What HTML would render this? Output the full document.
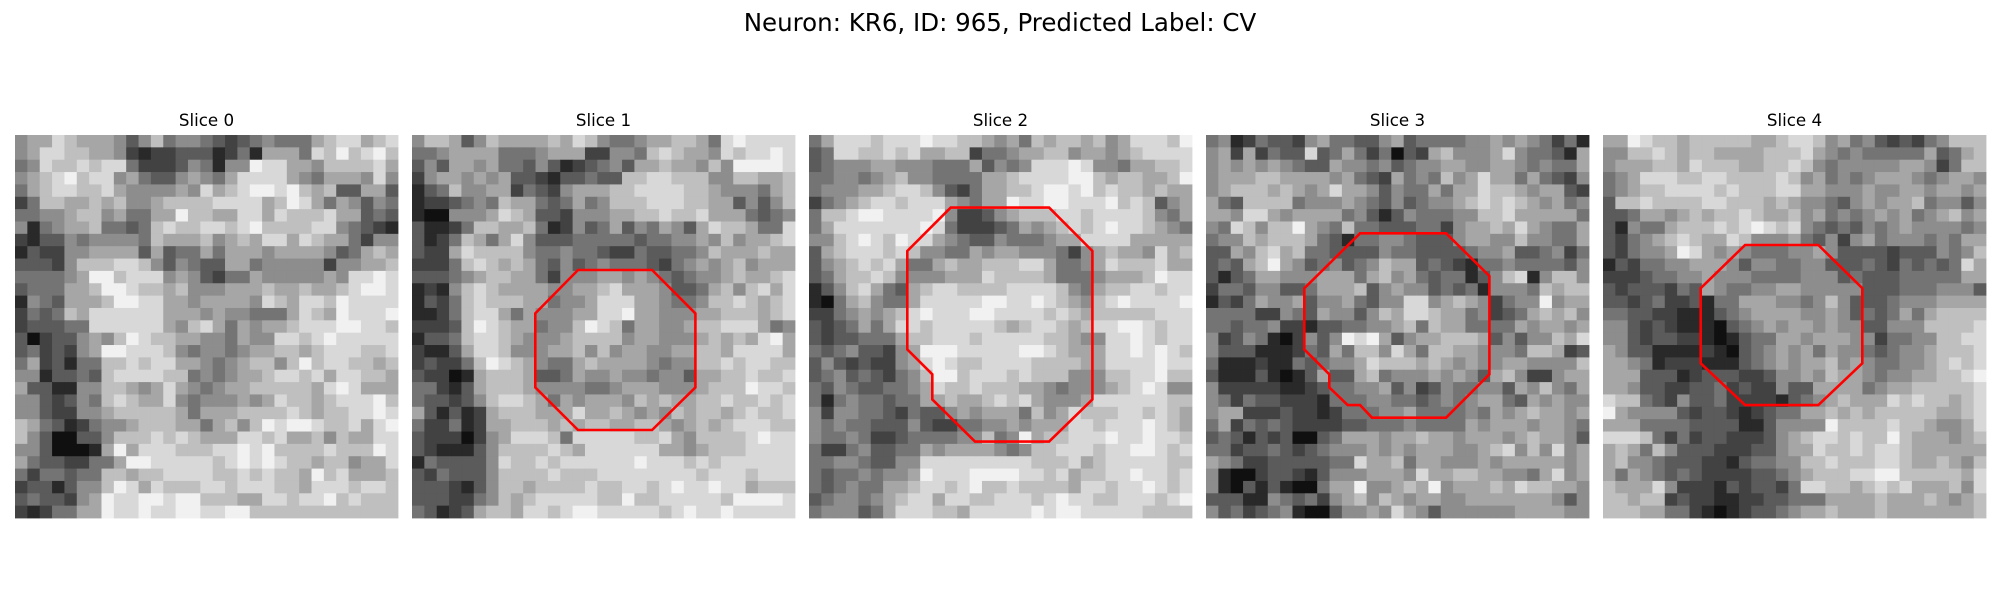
<!DOCTYPE html>
<html><head><meta charset="utf-8">
<style>
html,body{margin:0;padding:0;background:#fff;}
svg{display:block;}
text{font-family:"DejaVu Sans","Liberation Sans",sans-serif;fill:#000;}
</style></head>
<body>
<svg id="fig" width="2000" height="600" viewBox="0 0 2000 600" xmlns="http://www.w3.org/2000/svg">
<rect width="2000" height="600" fill="#fff"/>
<text x="1000" y="31" text-anchor="middle" font-size="24.5">Neuron: KR6, ID: 965, Predicted Label: CV</text>
</svg>
<script>
const panelTitles = ["Slice 0","Slice 1","Slice 2","Slice 3","Slice 4"];
const slice0 = [
"5668766653574554323454446788678","5688776652122333124166648797897","4587787884222354155988665777786",
"5678978856433565468888654666585","4678877865555658678998976733663","2477667675567777888867986465354",
"4455677564466977668868777866343","5145667443478778878977778854321","2133545555476667567688687664255",
"1322556666363446466656666534676","3332577788753543366455555255667","4444569978885653244655555658898",
"3444667998776755566676676678998","1543666799886656666587688798888","2434768888886665655444687698889",
"2333448888886578646566788899887","3023356579877665546558878988888","3423256998887545545667767888778",
"4623144778788665456775797887767","5513343788887745456678878688776","6331155776568654566777776898666",
"5532354787668545556568776788897","5532255677777646667777876778898","7643124556777664675798998778689",
"7530033577787876668878667576688","5530001696888777889897777877798","6433224469988888789898776775668",
"4244344776778888778787769786667","2331355798687778878887768887887","3433256988998997776688788978777",
"2124466988988998899777777777777"];
const slice1 = [
"5776357666676875445667764898888","4456666444566622554787665878898","3536656443531234536676657599998",
"2566565633213343377887775577667","1347556624325666778888776555467","1223454766434645777888776635357",
"1005556876332555667787786664345","3112477667412534635465368776448","3124764685333444443445565756678",
"3226877775445443224334457666766","2224787676435345444324565675666","3334567766425556656543455676678",
"1215787666655667866653346757868","1324787776645568886654457787678","1124788646555668896655566777678",
"2223798766455798746655677888645","1334788765556777756655567676896","2113688755566757566556677688886",
"2322479876544676666545577878877","3220167776334655655455366778778","4421367776555544566655567779887",
"4332357887646566657676677877878","6313126777666866765657677678778","4224126677767677667765676788877",
"3222025688874888887786577778988","3211135777787688888866567778888","1433335877878888889888787888888",
"3243335777787778888888878887888","3332135776777787788789889886777","3332245767888887797788888799998",
"4312367768878998888878988988888"];
const slice2 = [
"4688878889887765647677675688879","3488778786677244566775665678888","3455566555444635458889855466778",
"4455456755444466788889976776679","4555667887532466778998978776766","2456788788865466988998889787356",
"4778998888952235677788788887546","4688888889842223465678789887654","5578987988654335444566888866666",
"3678887875544656655542567665867","3567878644676677788644568777866","3467787555566687777644456667988",
"1357864367887777888875467788788","1046754468888899889876578988889","2245656789888998888787677777888",
"3234646887888887678876788998788","3233444677888788888776558898788","4345332569998888899876668898987",
"3532322568987788887777668888988","3453432457997888787775557788977","4354334456877877766545556789855",
"4145443446676678786555688888877","5255443243356566647568777887876","5454433353224455656668878889876",
"5445422344445574596778889889887","4224533446566665457788878899878","4455433558888888887778678888877",
"4344545569888999988786778898878","4345446678878977877776887889878","3455456788688778887898877888789",
"4555346888776888889899888887777"];
const slice3 = [
"4512433256443356344445565654241","5626243383464240326755568544316","5656565433655453455665566545446",
"5666776666564326454756866464325","5677767656866535446466877656632","6437777455565435345567878765645",
"6658865666645313544455778666664","5487577965474433344256676865446","4557677764314455433356655755446",
"3365786744333354433334556334524","3436796534534576634321445444435","3134665556664675643441357815775",
"2443553346667356553434155547677","1324655635564355885676524559566","4444225436553576887664523467675",
"4434452213344556747664444656656","5235410253598963566777635355768","5333111243647758647766555477623",
"4111211434556877767656556655557","3111310136336745556565367522566","5222221123445563523544553657546",
"5424332221444554434545664365655","5662223221244455644445465676656","4624343222233444544446566656654",
"3431323003466656676656665676653","4423343234555656566655678575856","6542233333448667466555656666656",
"5100233213555666586677665546856","5103131004669556769566676877665","3331154342567576566556666666535",
"5342345100355658653555555666655"];
const slice4 = [
"6698776777776678875645323245777","5577876776666777865454444463467","5666776877766778754555556652477",
"4568887788777787564545666545665","4567788887877788665556556656656","3778777788777676554356566745535",
"3346656767787667564545656456756","3154467778789878543435456555545","3245678766875556435256455545466",
"3245569865654445565333323335457","1324455666535544553334324343486","2223445565554444555343334444466",
"3233324365445566555553334445553","3323422314466655457533345556666","4433221113456666556534346467777",
"5532321110345656656553355577778","5532332210134466566655244557788","6533111121034565646554345567778",
"6654122211134565667565445567878","6663331233322355657665455667789","6653322334232253366664566777778",
"8774325334222213456766687877678","9655553233212344667676777776678","6664444333311355559777787765568",
"8887424233222356788787797666567","6764753332223356687787887666666","6755433322134455778777887667657",
"6465434322223345677788997777768","7666852221323324887767878666758","7767723221122334446666766676567",
"7776644210123345667666766666667"];
const slices = [slice0, slice1, slice2, slice3, slice4];
const contour1x = [12.94,18.93,22.44,22.44,18.93,12.94,9.48,9.48];
const contour1y = [10.43,10.43,13.94,19.93,23.38,23.38,19.93,13.94];
const contour2x = [10.97,18.93,22.44,22.44,18.93,12.94,9.48,9.48,7.46,7.46];
const contour2y = [5.38,5.38,8.89,20.9,24.32,24.32,20.9,18.87,16.85,8.89];
const contour3x = [11.97,18.93,22.44,22.44,18.93,12.94,11.97,10.97,9.48,9.48,7.46,7.46];
const contour3y = [7.46,7.46,10.91,18.87,22.38,22.38,21.36,21.36,19.93,18.87,16.85,11.91];
const contour4x = [11.0,16.93,20.49,20.49,16.93,11.0,7.41,7.41];
const contour4y = [8.4,8.4,11.9,17.98,21.36,21.36,17.98,11.9];
const contoursX = [null, contour1x, contour2x, contour3x, contour4x];
const contoursY = [null, contour1y, contour2y, contour3y, contour4y];

const NS = "http://www.w3.org/2000/svg";
const svg = document.getElementById("fig");
const PX0 = 15, PSTEP = 397, PY = 135, PW = 383, N = 31;
const cw = PW / N;
function gray(d){ const v = Math.round(16 + d * 25); return "rgb(" + v + "," + v + "," + v + ")"; }
function sx(p, c){ return PX0 + p * PSTEP + (c + 0.5) * cw; }
function sy(r){ return PY + (r + 0.5) * cw; }

slices.forEach((rows, p) => {
  const g = document.createElementNS(NS, "g");
  
  
  svg.appendChild(g);
  const t = document.createElementNS(NS, "text");
  
  
  t.setAttribute("x", PX0 + p * PSTEP + PW / 2);
  t.setAttribute("y", 126);
  t.setAttribute("text-anchor", "middle");
  t.setAttribute("font-size", "16.7");
  t.textContent = panelTitles[p];
  g.appendChild(t);
  rows.forEach((row, r) => {
    for (let c = 0; c < N; c++) {
      const d = parseInt(row[c] || "5", 10);
      const rect = document.createElementNS(NS, "rect");
      
      
      rect.setAttribute("x", (sx(p, c) - cw / 2).toFixed(2));
      rect.setAttribute("y", (sy(r) - cw / 2).toFixed(2));
      rect.setAttribute("width", (cw + 0.4).toFixed(2));
      rect.setAttribute("height", (cw + 0.4).toFixed(2));
      rect.setAttribute("fill", gray(d));
      g.appendChild(rect);
    }
  });
  const cx = contoursX[p], cy = contoursY[p];
  if (cx) {
    const pts = cx.map((x, i) => sx(p, x).toFixed(1) + "," + sy(cy[i]).toFixed(1)).join(" ");
    const poly = document.createElementNS(NS, "polygon");
    
    
    poly.setAttribute("points", pts);
    poly.setAttribute("fill", "none");
    poly.setAttribute("stroke", "#ff0000");
    poly.setAttribute("stroke-width", "2.6");
    g.appendChild(poly);
  }
});
</script>
</body></html>
